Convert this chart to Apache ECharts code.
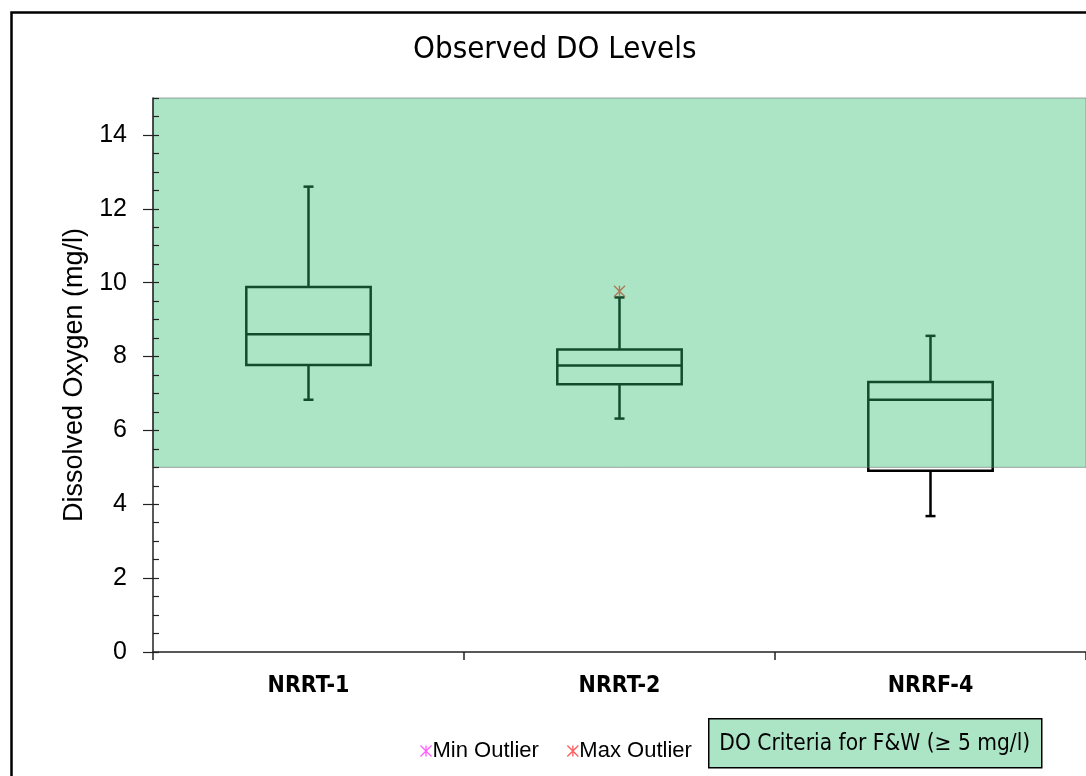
<!DOCTYPE html>
<html>
<head>
<meta charset="utf-8">
<title>Observed DO Levels</title>
<script src="https://cdn.jsdelivr.net/npm/echarts@6/dist/echarts.min.js"></script>
<style>
html,body{margin:0;padding:0;background:#fff;}
#container{width:1086px;height:776px;}
</style>
</head>
<body>
<div id="container"></div>
<script>
// stations and box stats: [low, q1, median, q3, high]
var stations = ['NRRT-1', 'NRRT-2', 'NRRF-4'];
var lowVals    = [6.83, 6.32, 3.68];
var q1Vals     = [7.77, 7.25, 4.91];
var medianVals = [8.60, 7.76, 6.83];
var q3Vals     = [9.88, 8.19, 7.31];
var highVals   = [12.60, 9.60, 8.56];
// outliers: [station index, value]
var minOutliers = [];
var maxOutliers = [[1, 9.77]];
// y tick labels (axis runs to 15 but labels stop at 14)
var yTicks = [0, 2, 4, 6, 8, 10, 12, 14];
// DO criteria band (>= 5 mg/l)
var criteriaLow = 5;
var yMax = 15;

var boxData = [];
for (var i = 0; i < stations.length; i++) {
    boxData.push([i, lowVals[i], q1Vals[i], medianVals[i], q3Vals[i], highVals[i]]);
}

// asterisk like the excel marker
var starPath = 'path://M0,0L10,10M10,0L0,10M5,0L5,10';

function renderBox(params, api) {
    var idx = api.value(0);
    var pLow = api.coord([idx, api.value(1)]);
    var pQ1 = api.coord([idx, api.value(2)]);
    var pMed = api.coord([idx, api.value(3)]);
    var pQ3 = api.coord([idx, api.value(4)]);
    var pHigh = api.coord([idx, api.value(5)]);
    var half = api.size([1, 0])[0] * 0.2;
    var cap = 5;
    var x = pMed[0];
    var st = {stroke: '#000', lineWidth: 2.5, fill: null};
    return {
        type: 'group',
        children: [
            {type: 'rect', shape: {x: x - half, y: pQ3[1], width: half * 2, height: pQ1[1] - pQ3[1]}, style: st},
            {type: 'line', shape: {x1: x - half, y1: pMed[1], x2: x + half, y2: pMed[1]}, style: st},
            {type: 'line', shape: {x1: x, y1: pQ3[1], x2: x, y2: pHigh[1]}, style: st},
            {type: 'line', shape: {x1: x, y1: pQ1[1], x2: x, y2: pLow[1]}, style: st},
            {type: 'line', shape: {x1: x - cap, y1: pHigh[1], x2: x + cap, y2: pHigh[1]}, style: st},
            {type: 'line', shape: {x1: x - cap, y1: pLow[1], x2: x + cap, y2: pLow[1]}, style: st}
        ]
    };
}

// translucent green band laid over the boxes, like the excel area fill
function renderBand(params, api) {
    var cs = params.coordSys;
    var yTop = api.coord([0, api.value(1)])[1];
    var yBot = api.coord([0, api.value(0)])[1];
    return {
        type: 'rect',
        shape: {x: cs.x, y: yTop, width: cs.width, height: yBot - yTop},
        style: {fill: 'rgba(45,190,110,0.4)', stroke: 'rgba(110,110,110,0.6)', lineWidth: 1}
    };
}

var dom = document.getElementById('container');
var myChart = echarts.init(dom);
var option = {
    backgroundColor: '#fff',
    animation: false,
    title: {
        text: 'Observed DO Levels',
        left: 408,
        top: 29,
        textStyle: {
            fontFamily: 'DejaVu Sans Condensed',
            fontWeight: 'normal',
            fontSize: 31,
            color: '#000'
        }
    },
    legend: {
        left: 413,
        top: 735,
        itemGap: 26,
        itemWidth: 11,
        itemHeight: 11,
        textStyle: {fontFamily: 'Liberation Sans', fontSize: 22, color: '#000', padding: [0, 0, 0, -4]},
        data: [
            {name: 'Min Outlier', icon: starPath, itemStyle: {color: 'none', borderColor: '#ff33ff', borderWidth: 1.3}},
            {name: 'Max Outlier', icon: starPath, itemStyle: {color: 'none', borderColor: '#ff3333', borderWidth: 1.3}}
        ]
    },
    grid: {left: 153, right: -3, top: 98, bottom: 124},
    xAxis: {
        type: 'category',
        data: stations,
        boundaryGap: true,
        axisLine: {lineStyle: {color: '#222', width: 1.5}},
        axisTick: {show: true, length: 8, lineStyle: {color: '#222', width: 1.5}},
        axisLabel: {
            margin: 23,
            fontFamily: 'DejaVu Sans Condensed',
            fontWeight: 'bold',
            fontSize: 23,
            color: '#000'
        },
        splitLine: {show: false},
        z: 10
    },
    yAxis: [{
        type: 'value',
        min: 0,
        max: yMax,
        interval: 2,
        name: 'Dissolved Oxygen (mg/l)',
        nameLocation: 'middle',
        nameGap: 63,
        nameTextStyle: {fontFamily: 'Liberation Sans', fontSize: 27, color: '#000'},
        axisLine: {show: true, lineStyle: {color: '#222', width: 1.5}},
        axisTick: {show: true, inside: true, length: 6, lineStyle: {color: '#222', width: 1.2}},
        minorTick: {show: true, splitNumber: 4, length: 6, lineStyle: {color: '#222', width: 1.2}},
        axisLabel: {margin: 26, customValues: yTicks, fontFamily: 'Liberation Sans', fontSize: 25, color: '#000'},
        splitLine: {show: false},
        z: 10
    }, {
        type: 'value',
        min: 0,
        max: yMax,
        interval: 2,
        position: 'left',
        // outer halves of the major ticks
        axisLine: {show: false},
        axisTick: {show: true, length: 10, customValues: yTicks, lineStyle: {color: '#222', width: 1.2}},
        axisLabel: {show: false},
        splitLine: {show: false},
        z: 10
    }],
    series: [{
        name: 'DO',
        type: 'custom',
        renderItem: renderBox,
        encode: {x: 0, y: [1, 2, 3, 4, 5]},
        data: boxData,
        z: 2
    }, {
        name: 'Min Outlier',
        type: 'scatter',
        symbol: starPath,
        symbolSize: 11,
        itemStyle: {color: 'none', borderColor: '#ff33ff', borderWidth: 1.3},
        data: minOutliers,
        z: 3
    }, {
        name: 'Max Outlier',
        type: 'scatter',
        symbol: starPath,
        symbolSize: 11,
        itemStyle: {color: 'none', borderColor: '#ff2020', borderWidth: 1.4},
        data: maxOutliers,
        z: 3
    }, {
        name: 'criteria',
        type: 'custom',
        renderItem: renderBand,
        encode: {y: [0, 1]},
        data: [[criteriaLow, yMax]],
        silent: true,
        z: 5
    }],
    graphic: [{
        type: 'rect',
        left: 9,
        top: 10,
        shape: {width: 1100, height: 800},
        style: {fill: null, stroke: '#000', lineWidth: 2.5},
        silent: true
    }, {
        type: 'group',
        left: 708,
        top: 718,
        children: [{
            type: 'rect',
            shape: {x: 0, y: 0, width: 333, height: 49},
            style: {fill: '#abe5c5', stroke: '#000', lineWidth: 1.5}
        }, {
            type: 'text',
            x: 166,
            y: 25,
            style: {
                text: 'DO Criteria for F&W (≥ 5 mg/l)',
                fontFamily: 'DejaVu Sans Condensed',
                fontSize: 22.5,
                fill: '#000',
                align: 'center',
                verticalAlign: 'middle'
            }
        }]
    }]
};
if (option && typeof option === 'object') {
    myChart.setOption(option, true);
}
</script>
</body>
</html>
